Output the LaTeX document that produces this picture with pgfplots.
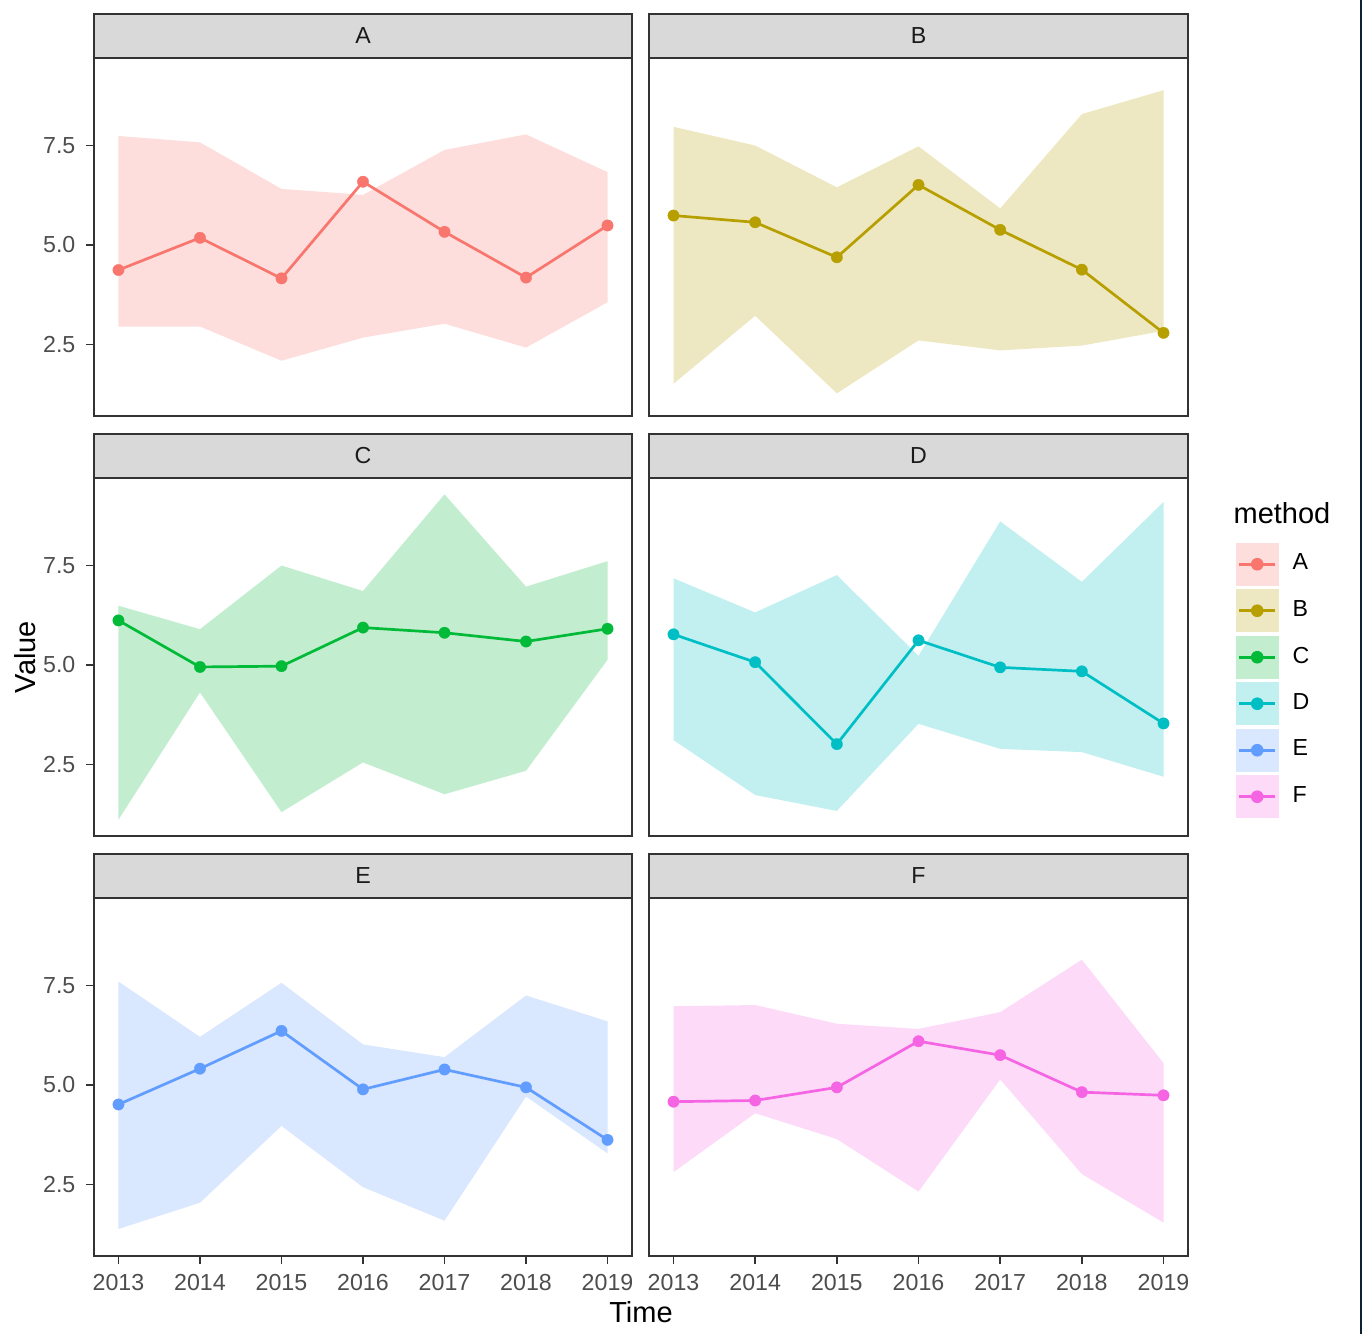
\documentclass[border=0pt]{standalone}
\usepackage{pgfplots}
\usepackage{pgfplotstable}
\pgfplotsset{compat=1.18}
\usepgfplotslibrary{fillbetween}
\usepackage{fontspec}
\setmainfont{Liberation Sans}

% ggplot hue palette
\definecolor{cA}{HTML}{F8766D}
\definecolor{cB}{HTML}{B79F00}
\definecolor{cC}{HTML}{00BA38}
\definecolor{cD}{HTML}{00BFC4}
\definecolor{cE}{HTML}{619CFF}
\definecolor{cF}{HTML}{F564E3}
\definecolor{grey10}{HTML}{1A1A1A}
\definecolor{grey20}{HTML}{333333}
\definecolor{grey30}{HTML}{4D4D4D}
\definecolor{grey85}{HTML}{D9D9D9}
\definecolor{edge}{HTML}{0F2030}

\newcommand\ticksize{\fontsize{7.73pt}{9pt}\selectfont}
\newcommand\titlesize{\fontsize{9.67pt}{11.5pt}\selectfont}

% year, ribbon low, mean, ribbon high
\pgfplotstableread{
x lo mid hi
2013 2.95 4.37 7.74
2014 2.95 5.18 7.58
2015 2.09 4.16 6.41
2016 2.67 6.59 6.26
2017 3.02 5.33 7.39
2018 2.42 4.18 7.78
2019 3.56 5.49 6.83
}\tA
\pgfplotstableread{
x lo mid hi
2013 1.51 5.74 7.97
2014 3.22 5.57 7.50
2015 1.27 4.69 6.45
2016 2.60 6.51 7.48
2017 2.35 5.38 5.92
2018 2.47 4.38 8.29
2019 2.84 2.79 8.89
}\tB
\pgfplotstableread{
x lo mid hi
2013 1.11 6.12 6.49
2014 4.31 4.95 5.90
2015 1.30 4.97 7.50
2016 2.55 5.94 6.86
2017 1.75 5.81 9.29
2018 2.34 5.59 6.97
2019 5.13 5.91 7.61
}\tC
\pgfplotstableread{
x lo mid hi
2013 3.11 5.77 7.18
2014 1.73 5.07 6.32
2015 1.33 3.01 7.26
2016 3.52 5.62 5.23
2017 2.89 4.94 8.61
2018 2.81 4.84 7.09
2019 2.19 3.53 9.10
}\tD
\pgfplotstableread{
x lo mid hi
2013 1.38 4.51 7.60
2014 2.04 5.41 6.21
2015 3.97 6.36 7.57
2016 2.43 4.89 6.02
2017 1.59 5.39 5.70
2018 4.71 4.94 7.25
2019 3.28 3.62 6.60
}\tE
\pgfplotstableread{
x lo mid hi
2013 2.81 4.58 6.98
2014 4.29 4.61 7.01
2015 3.64 4.94 6.54
2016 2.32 6.10 6.41
2017 5.14 5.75 6.83
2018 2.76 4.82 8.15
2019 1.54 4.74 5.55
}\tF

\pgfplotsset{
  facet/.style={
    scale only axis, anchor=south west,
    width=179.333pt, height=119.333pt,
    xmin=2012.7, xmax=2019.3, ymin=0.7, ymax=9.7,
    xtick=\empty, ytick=\empty,
    xtick pos=bottom, ytick pos=left,
    axis line style={draw=grey20, line width=0.6pt},
    tick align=outside, major tick length=2.67pt,
    tick style={draw=grey20, line width=0.6pt},
    ticklabel style={font=\ticksize, text=grey30},
  },
  yaxis/.style={ytick={2.5,5,7.5}, yticklabels={2.5,5.0,7.5}},
  xaxis/.style={xtick={2013,2014,2015,2016,2017,2018,2019},
    xticklabels={2013,2014,2015,2016,2017,2018,2019}},
  legkey/.style={legend image code/.code={
      \fill[#1!24!white] (0pt,-7pt) rectangle (14pt,7pt);
      \draw[#1, line width=0.9pt] (1pt,0pt) -- (13pt,0pt);
      \fill[#1] (7pt,0pt) circle (1.9pt);
  }},
}

% ribbon + line + points for one facet
\newcommand{\facetplots}[2]{%
  \addplot[name path=hi, draw=none, forget plot] table[x=x, y=hi] {#1};
  \addplot[name path=lo, draw=none, forget plot] table[x=x, y=lo] {#1};
  \addplot[fill=#2!24!white, draw=none, forget plot] fill between[of=hi and lo];
  \addplot[#2, line width=0.9pt, mark=*, mark size=1.9pt,
    mark options={line width=0.1pt}, forget plot] table[x=x, y=mid] {#1};
}

\begin{document}
\begin{tikzpicture}
\path (0pt,0pt) rectangle (454pt,444.667pt);

% row 1
\begin{axis}[facet, yaxis, at={(31.333pt,306pt)}]
  \facetplots{\tA}{cA}
\end{axis}
\begin{axis}[facet, at={(216.333pt,306pt)}, width=179.667pt]
  \facetplots{\tB}{cB}
\end{axis}
% row 2
\begin{axis}[facet, yaxis, at={(31.333pt,166pt)}]
  \facetplots{\tC}{cC}
\end{axis}
\begin{axis}[facet, at={(216.333pt,166pt)}, width=179.667pt,
    legend style={at={(1.0872,0.8212)}, anchor=north west, draw=none,
      fill=none, inner sep=0pt, row sep=1.1pt, column sep=4.6pt,
      cells={anchor=west}, font=\ticksize, nodes={inner sep=0pt}}]
  \facetplots{\tD}{cD}
  \addlegendimage{legkey=cA}
  \addlegendimage{legkey=cB}
  \addlegendimage{legkey=cC}
  \addlegendimage{legkey=cD}
  \addlegendimage{legkey=cE}
  \addlegendimage{legkey=cF}
  \legend{A,B,C,D,E,F}
\end{axis}
% row 3
\begin{axis}[facet, yaxis, xaxis, at={(31.333pt,26pt)}]
  \facetplots{\tE}{cE}
\end{axis}
\begin{axis}[facet, xaxis, at={(216.333pt,26pt)}, width=179.667pt]
  \facetplots{\tF}{cF}
\end{axis}

% facet strips
\foreach \sx/\sw/\sy/\lab in {31.333/179.333/425.333/A, 216.333/179.667/425.333/B,
    31.333/179.333/285.333/C, 216.333/179.667/285.333/D,
    31.333/179.333/145.333/E, 216.333/179.667/145.333/F}{
  \draw[fill=grey85, draw=grey20, line width=0.6pt]
    (\sx pt,\sy pt) rectangle ({\sx pt+\sw pt},{\sy pt+14.667pt});
  \node[font=\ticksize, text=grey10] at ({\sx pt+0.5*\sw pt},{\sy pt+7.333pt}) {\lab};
}

% axis titles and legend title
\node[font=\titlesize, rotate=90] at (8.333pt,225.667pt) {Value};
\node[font=\titlesize] at (213.667pt,7.333pt) {Time};
\node[font=\titlesize, anchor=base west, inner sep=0pt] at (411pt,270.333pt) {method};

% dark edge at the right of the screenshot
\fill[edge] (453.333pt,0pt) rectangle (454pt,444.667pt);
\end{tikzpicture}
\end{document}
